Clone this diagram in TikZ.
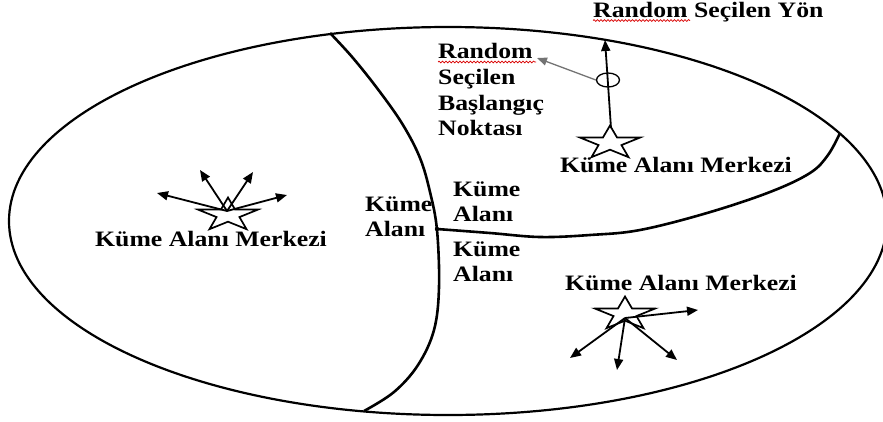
\documentclass[tikz,border=0pt]{standalone}
\usepackage{fontspec}
\newfontfamily\kfont{Liberation Serif}[FakeStretch=1.17]
\usetikzlibrary{arrows.meta,shapes.geometric,decorations.pathmorphing}
\tikzset{
  lbl/.style={inner sep=0pt, anchor=base west, font=\kfont\bfseries\fontsize{22}{26}\selectfont},
  divider/.style={line width=2.6pt},
  ray/.style={line width=1.8pt, -{Triangle[length=11pt,width=9pt]}},
  grayray/.style={line width=1.3pt, draw=black!55, -{Triangle[length=10pt,width=8pt,fill=black!55]}},
  spell/.style={draw=red!85!black, line width=0.7pt, decorate, decoration={snake, amplitude=0.9pt, segment length=3.5pt}},
  kstar/.pic={\draw[line width=1.7pt, xscale=1.8, line join=miter]
     (-90:17.5) -- (-54:6.7) -- (-18:17.5) -- (18:6.7) -- (54:17.5) -- (90:6.7)
     -- (126:17.5) -- (162:6.7) -- (198:17.5) -- (234:6.7) -- cycle;}
}
\begin{document}
\begin{tikzpicture}[x=1pt,y=-1pt]
\useasboundingbox (0,0) rectangle (883,421);
% outer ellipse
\draw[line width=2.2pt] (448,221) ellipse [x radius=439, y radius=194];
% dividers
\draw[divider] plot[smooth, tension=0.6] coordinates {(330,33) (353,58) (380,92) (403,125) (420,158) (430,192) (437,230) (439,287) (434,330) (418,365) (394,392) (364,411)};
\draw[divider] plot[smooth, tension=0.6] coordinates {(437,229) (490,233) (540,237) (590,235) (640,230) (707,213) (770,192) (810,173) (828,155) (840,133)};
\fill (437,229) circle (2.2);

% top label
\node[lbl] (yon) at (593,17) {Random Seçilen Yön};
\draw[spell] (593,20.5) -- (690,20.5);

% starting point text
\node[lbl] (bas1) at (438,58) {Random};
\node[lbl] (bas2) at (438,84) {Seçilen};
\node[lbl] (bas3) at (438,110) {Başlangıç};
\node[lbl] (bas4) at (438,135) {Noktası};
\draw[spell] (438,62) -- (536,62);

% top right center
\pic at (610,143) {kstar};
\coordinate (s1) at (611,128);
\coordinate (t1) at (605,40);
\node[draw, line width=1.3pt, ellipse, minimum width=23pt, minimum height=14pt, inner sep=0pt] (sp) at (608,80) {};
\draw[ray] (s1) -- (t1);
\coordinate (g1) at (537,58);
\draw[grayray] (sp.west) -- (g1);
\node[lbl] (m1) at (560,172.5) {Küme Alanı Merkezi};

% left center
\pic at (228,215) {kstar};
\coordinate (s2) at (227,211);
\coordinate (a21) at (157,193);
\coordinate (a22) at (200,170);
\coordinate (a23) at (253,172);
\coordinate (a24) at (287,195);
\foreach \t in {a21,a22,a23,a24} \draw[ray] (s2) -- (\t);
\node[lbl] (m2) at (95,246) {Küme Alanı Merkezi};

% bottom right center
\pic at (625,314) {kstar};
\coordinate (s3) at (625,318);
\coordinate (a31) at (698,310);
\coordinate (a32) at (570,358);
\coordinate (a33) at (617,370);
\coordinate (a34) at (677,360);
\foreach \t in {a31,a32,a33,a34} \draw[ray] (s3) -- (\t);
\node[lbl] (m3) at (565,290) {Küme Alanı Merkezi};

% region labels
\node[lbl] (k1a) at (365,211.7) {Küme};
\node[lbl] (k1b) at (365,236.7) {Alanı};
\node[lbl] (k2a) at (453,196) {Küme};
\node[lbl] (k2b) at (453,221.7) {Alanı};
\node[lbl] (k3a) at (453,256) {Küme};
\node[lbl] (k3b) at (453,281) {Alanı};
\end{tikzpicture}
\end{document}
